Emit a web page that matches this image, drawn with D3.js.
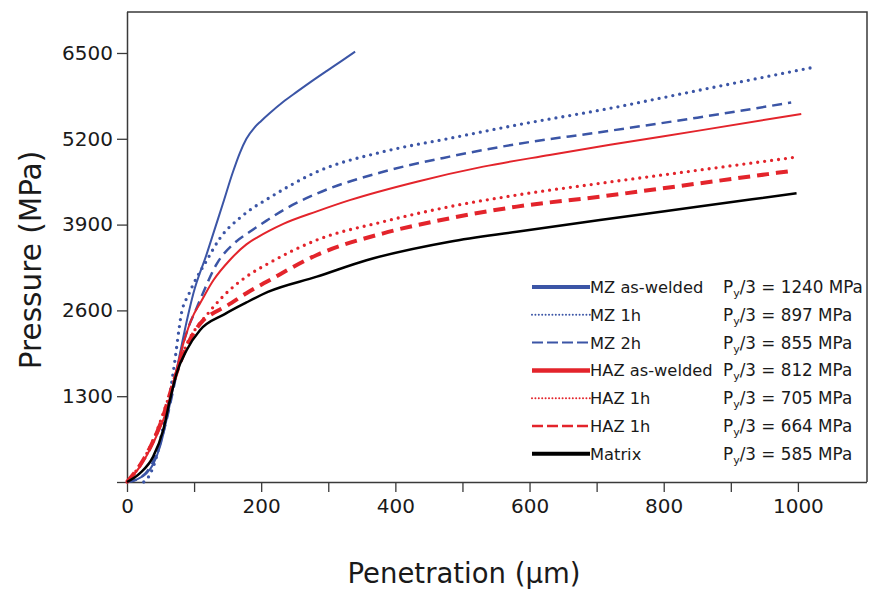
<!DOCTYPE html>
<html><head><meta charset="utf-8">
<script src="https://cdn.jsdelivr.net/npm/d3@7"></script>
<style>body{margin:0;background:#fff}svg{display:block}</style>
</head><body>
<svg id="chart" width="869" height="592"></svg>
<script>
// ---------- data ----------
const xTicks = [0,100,200,300,400,500,600,700,800,900,1000];
const xTickLabels = [0,200,400,600,800,1000];
const yTicks = [0,1300,2600,3900,5200,6500];
const seriesNames = ["MZ as-welded","MZ 1h","MZ 2h","HAZ as-welded","HAZ 1h","HAZ 1h","Matrix"];
const pyValues = [1240,897,855,812,705,664,585];

const mzAsWelded = [[0,0],[15,40],[29,130],[39,270],[49,530],[62,1090],[72,1600],[82,2100],[90,2480],[99,2860],[119,3460],[143,4220],[158,4700],[168,4980],[178,5200],[190,5370],[200,5470],[213,5590],[233,5760],[253,5910],[275,6070],[298,6230],[320,6380],[340,6520]];
const mz1h = [[25,0],[35,130],[44,384],[54,840],[64,1340],[71.5,1850],[78,2350],[81,2550],[85,2700],[90,2800],[99,3000],[119,3360],[139,3700],[168,4000],[183,4120],[208,4280],[283,4700],[382,5005],[481,5207],[581,5409],[720,5662],[850,5930],[1028,6293]];
const mz2h = [[0,0],[15,40],[30,160],[45,450],[58,900],[70,1450],[80,1950],[90,2300],[104,2640],[114,2880],[134,3310],[158,3600],[183,3790],[208,3960],[233,4120],[283,4370],[382,4700],[481,4930],[581,5120],[705,5300],[850,5520],[990,5750]];
const hazAsWelded = [[0,0],[19,230],[39,590],[59,1090],[71.5,1600],[84,2100],[100,2550],[109,2710],[129,3060],[153,3360],[178,3600],[195,3710],[211,3800],[233,3910],[283,4100],[332,4270],[432,4550],[531,4778],[630,4955],[720,5110],[850,5320],[1005,5576]];
const haz1hDotted = [[0,0],[24,330],[39,636],[54,1040],[68,1470],[80,1850],[92,2150],[105,2360],[118,2520],[129,2656],[153,2909],[178,3111],[211,3313],[283,3667],[382,3944],[481,4172],[581,4348],[705,4525],[850,4722],[995,4919]];
const haz1hDashed = [[0,0],[24,330],[39,620],[54,1000],[68,1470],[80,1830],[92,2120],[104,2330],[114,2455],[124,2530],[149,2670],[178,2860],[211,3050],[283,3440],[382,3768],[481,3995],[581,4172],[705,4323],[850,4521],[993,4717]];
const matrix = [[0,0],[19,131],[39,384],[54,788],[64,1242],[74,1647],[89,2000],[109,2303],[145,2540],[178,2720],[210,2880],[283,3111],[357,3360],[481,3641],[581,3792],[705,3970],[850,4170],[998,4374]];

// ---------- styles ----------
const BLUE = "#3b55a6", RED = "#e3242b", BLACK = "#000";
const styles = [
  {c:BLUE, w:2,   d:null,   lw:4,   ld:null},
  {c:BLUE, w:3.3, d:"0,7",  lw:2,   ld:"0,3.4", cap:"round"},
  {c:BLUE, w:2.5, d:"10,6", lw:2,   ld:"11,4"},
  {c:RED,  w:2,   d:null,   lw:4.5, ld:null},
  {c:RED,  w:3.3, d:"0,7",  lw:2,   ld:"0,3.4", cap:"round"},
  {c:RED,  w:4,   d:"12,7", lw:2.5, ld:"11,4"},
  {c:BLACK,w:2.5, d:null,   lw:4,   ld:null}
];
const seriesData = [mzAsWelded, mz1h, mz2h, hazAsWelded, haz1hDotted, haz1hDashed, matrix];

const svg = d3.select("#chart");
const L = 127, R = 867, T = 12, B = 482;
const x = d3.scaleLinear().domain([0,1103]).range([L,R]);
const y = d3.scaleLinear().domain([0,7121]).range([B,T]);
const AX = "#3a3a3a";
const FONT = "'DejaVu Sans', Verdana, sans-serif";

// frame (top & right)
svg.append("path").attr("d",`M${L},${T}H${R}V${B}`).attr("fill","none").attr("stroke",AX).attr("stroke-width",1.5);

// axes
const gx = svg.append("g").attr("transform",`translate(0,${B})`)
  .call(d3.axisBottom(x).tickValues(xTicks).tickSize(10).tickPadding(7)
    .tickFormat(d => xTickLabels.includes(d) ? d : ""));
const gy = svg.append("g").attr("transform",`translate(${L},0)`)
  .call(d3.axisLeft(y).tickValues(yTicks).tickSize(10).tickPadding(4)
    .tickFormat(d => d === 0 ? "" : d));
[gx,gy].forEach(g=>{
  g.select(".domain").attr("stroke",AX).attr("stroke-width",1.5);
  g.selectAll(".tick line").attr("stroke",AX).attr("stroke-width",1.3);
  g.selectAll(".tick text").attr("font-family",FONT).attr("font-size",20).attr("fill","#1a1a1a");
});
gx.select(".domain").attr("d",`M${L},0.5H${R}`);
gy.select(".domain").attr("d",`M0.5,${B}V${T}`);

// axis titles
svg.append("text").attr("x",464).attr("y",583).attr("text-anchor","middle")
  .attr("font-family",FONT).attr("font-size",27.5).attr("fill","#1a1a1a").text("Penetration (μm)");
svg.append("text").attr("transform","translate(41,260) rotate(-90)").attr("text-anchor","middle")
  .attr("font-family",FONT).attr("font-size",29.5).attr("fill","#1a1a1a").text("Pressure (MPa)");

// curves
const line = d3.line().x(d=>x(d[0])).y(d=>y(d[1])).curve(d3.curveMonotoneX);
seriesData.forEach((s,i)=>{
  const st = styles[i];
  svg.append("path").datum(s).attr("d",line).attr("fill","none")
    .attr("stroke",st.c).attr("stroke-width",st.w)
    .attr("stroke-dasharray",st.d)
    .attr("stroke-linecap",st.cap || "butt")
    .attr("stroke-linejoin","round");
});

// legend
const lg = svg.append("g");
seriesNames.forEach((name,i)=>{
  const st = styles[i];
  const cy = 287 + i*27.8;
  lg.append("line").attr("x1",532).attr("x2",590).attr("y1",cy).attr("y2",cy)
    .attr("stroke",st.c).attr("stroke-width",st.lw).attr("stroke-dasharray",st.ld)
    .attr("stroke-linecap",st.cap || "butt");
  lg.append("text").attr("x",590).attr("y",cy+6).attr("font-family",FONT)
    .attr("font-size",16.3).attr("fill","#1a1a1a").text(name);
  const t = lg.append("text").attr("x",723).attr("y",cy+6).attr("font-family",FONT)
    .attr("font-size",16.8).attr("fill","#1a1a1a");
  t.append("tspan").text("P");
  t.append("tspan").attr("font-size",11).attr("dy",4).text("y");
  t.append("tspan").attr("dy",-4).text(`/3 = ${pyValues[i]} MPa`);
});
</script>
</body></html>
